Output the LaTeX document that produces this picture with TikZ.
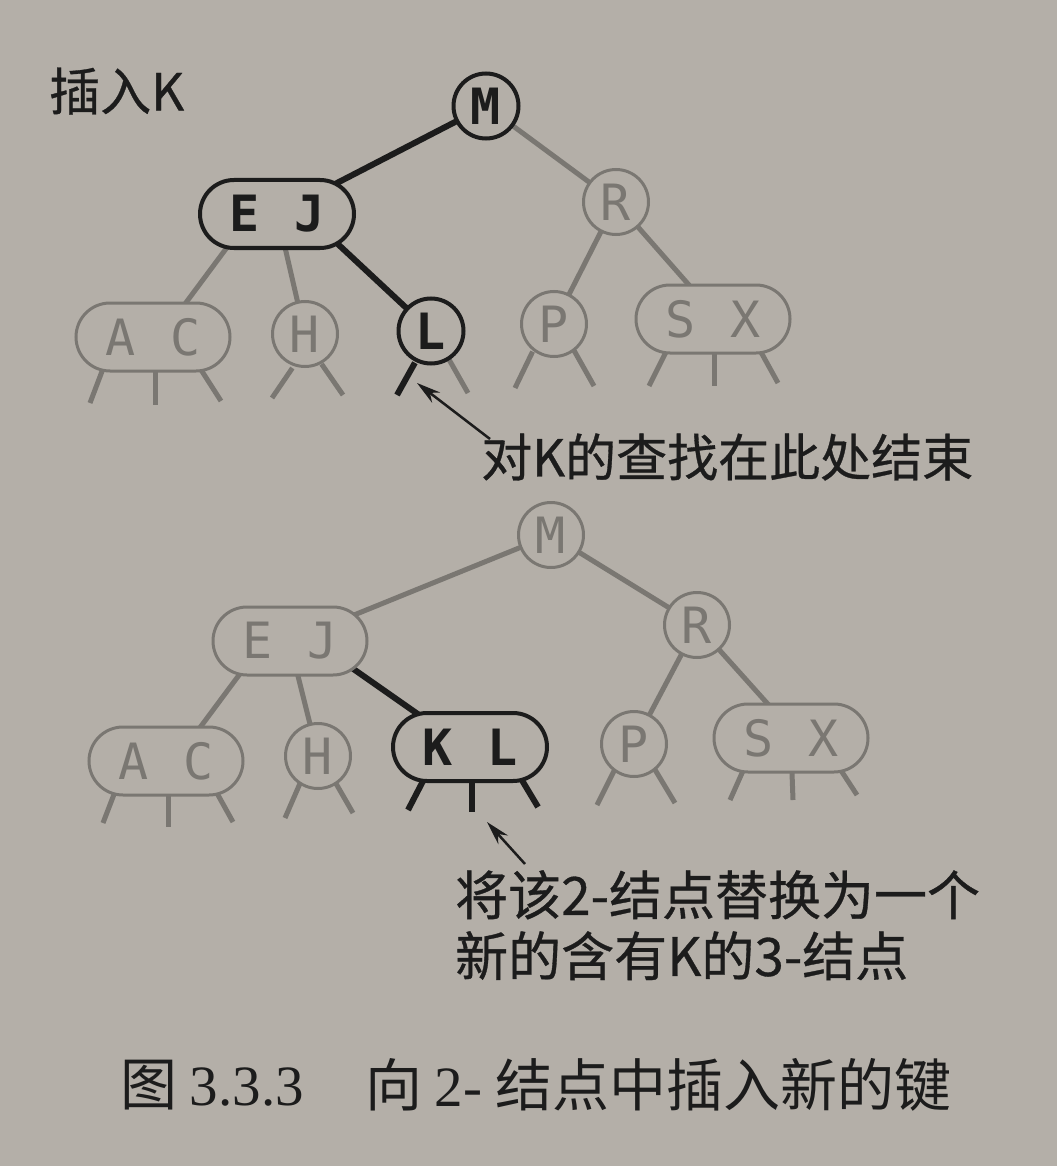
\documentclass[tikz,border=0pt]{standalone}
\usepackage{fontspec}
\setmainfont{Noto Sans CJK SC}
\newfontfamily\cjk[FakeBold=0.6]{Noto Sans CJK SC}
\newfontfamily\capfont{Noto Sans CJK SC}
\newfontfamily\keyfont[WordSpace=1.15]{DejaVu Sans Mono}
\newfontfamily\serifnum{Liberation Serif}
\usetikzlibrary{arrows.meta}
\pgfdeclarelayer{bglayer}
\pgfdeclarelayer{edgelayer}
\pgfsetlayers{bglayer,edgelayer,main}
\definecolor{paper}{RGB}{180,175,168}
\definecolor{ink}{RGB}{28,28,28}
\definecolor{fade}{RGB}{122,119,114}
\begin{document}
\begin{tikzpicture}[x=1pt,y=-1pt,
  knode/.style={inner sep=0pt, fill=paper, font=\keyfont\fontsize{50}{60}\selectfont},
  on/.style={draw=ink, text=ink, line width=4pt, font=\keyfont\bfseries\fontsize{50}{60}\selectfont},
  off/.style={draw=fade, text=fade, line width=3pt},
  two/.style={knode, circle, minimum size=65pt},
  three/.style={knode, rectangle, rounded corners=34pt, minimum width=154pt, minimum height=68pt},
  onlink/.style={draw=ink, line width=6pt},
  offlink/.style={draw=fade, line width=5pt},
  onleaf/.style={onlink, shorten <=-6pt},
  offleaf/.style={offlink, shorten <=-6pt},
  label/.style={inner sep=0pt, text=ink, font=\cjk\fontsize{51}{61}\selectfont},
  pointer/.style={draw=ink, line width=2.5pt, -{Stealth[length=24pt,width=13pt]}}
]
\begin{pgfonlayer}{bglayer}
\fill[paper] (0,0) rectangle (1057,1166);
\end{pgfonlayer}
\path[use as bounding box] (0,0) rectangle (1057,1166);

% ---------- top tree ----------
\node[two,on]    (M1)  at (486,106) {M};
\node[three,on]  (EJ1) at (277,214) {E J};
\node[two,off]   (R1)  at (616,202) {R};
\node[three,off] (AC1) at (153,337) {A C};
\node[two,off]   (H1)  at (305,334) {H};
\node[two,on]    (L1)  at (431,331) {L};
\node[two,off]   (P1)  at (554,324) {P};
\node[three,off] (SX1) at (713,319) {S X};

\begin{pgfonlayer}{edgelayer}
\draw[onlink]  (M1.center) -- (EJ1.center);
\draw[onlink]  ([shift={(49,19)}]EJ1.center) -- (L1.center);
\draw[offlink] ([shift={(-43,24)}]EJ1.center) -- ([shift={(26,-25)}]AC1.center);
\draw[offlink] ([shift={(7,29)}]EJ1.center) -- (H1.center);
\draw[offlink] (M1.center) -- (R1.center);
\draw[offlink] (R1.center) -- (P1.center);
\draw[offlink] (R1.center) -- ([shift={(-17,-26)}]SX1.center);
% leaves
\draw[offleaf] ([shift={(-52,37)}]AC1.center) -- ([shift={(-63,66)}]AC1.center);
\draw[offleaf] ([shift={(2,39)}]AC1.center) -- ([shift={(2,68)}]AC1.center);
\draw[offleaf] ([shift={(52,39)}]AC1.center) -- ([shift={(68,64)}]AC1.center);
\draw[offleaf] ([shift={(-16,39)}]H1.center) -- ([shift={(-33,64)}]H1.center);
\draw[offleaf] ([shift={(20,35)}]H1.center) -- ([shift={(38,61)}]H1.center);
\draw[onleaf]  ([shift={(-19,37)}]L1.center) -- ([shift={(-34,64)}]L1.center);
\draw[offleaf] ([shift={(20,32)}]L1.center) -- ([shift={(37,62)}]L1.center);
\draw[offleaf] ([shift={(-24,33)}]P1.center) -- ([shift={(-39,64)}]P1.center);
\draw[offleaf] ([shift={(22,30)}]P1.center) -- ([shift={(40,62)}]P1.center);
\draw[offleaf] ([shift={(-49,37)}]SX1.center) -- ([shift={(-64,67)}]SX1.center);
\draw[offleaf] ([shift={(1,38)}]SX1.center) -- ([shift={(1,67)}]SX1.center);
\draw[offleaf] ([shift={(49,35)}]SX1.center) -- ([shift={(65,64)}]SX1.center);
\end{pgfonlayer}

% ---------- bottom tree ----------
\node[two,off]   (M2)  at (551,535) {M};
\node[three,off] (EJ2) at (290,641) {E J};
\node[two,off]   (R2)  at (697,625) {R};
\node[three,off] (AC2) at (166,761) {A C};
\node[two,off]   (H2)  at (318,756) {H};
\node[three,on]  (KL2) at (470,747) {K L};
\node[two,off]   (P2)  at (634,744) {P};
\node[three,off] (SX2) at (791,738) {S X};

\begin{pgfonlayer}{edgelayer}
\draw[offlink] (M2.center) -- (EJ2.center);
\draw[offlink] (M2.center) -- (R2.center);
\draw[offlink] ([shift={(-45,26)}]EJ2.center) -- ([shift={(27,-24)}]AC2.center);
\draw[offlink] ([shift={(6,27)}]EJ2.center) -- (H2.center);
\draw[onlink]  ([shift={(52,20)}]EJ2.center) -- ([shift={(-38,-23)}]KL2.center);
\draw[offlink] (R2.center) -- (P2.center);
\draw[offlink] (R2.center) -- ([shift={(-16,-26)}]SX2.center);
% leaves
\draw[offleaf] ([shift={(-53,36)}]AC2.center) -- ([shift={(-63,62)}]AC2.center);
\draw[offleaf] ([shift={(2,36)}]AC2.center) -- ([shift={(2,66)}]AC2.center);
\draw[offleaf] ([shift={(52,34)}]AC2.center) -- ([shift={(67,61)}]AC2.center);
\draw[offleaf] ([shift={(-20,32)}]H2.center) -- ([shift={(-33,62)}]H2.center);
\draw[offleaf] ([shift={(20,31)}]H2.center) -- ([shift={(35,57)}]H2.center);
\draw[onleaf]  ([shift={(-48,36)}]KL2.center) -- ([shift={(-62,63)}]KL2.center);
\draw[onleaf]  ([shift={(2,36)}]KL2.center) -- ([shift={(2,65)}]KL2.center);
\draw[onleaf]  ([shift={(53,35)}]KL2.center) -- ([shift={(68,60)}]KL2.center);
\draw[offleaf] ([shift={(-22,31)}]P2.center) -- ([shift={(-37,61)}]P2.center);
\draw[offleaf] ([shift={(23,29)}]P2.center) -- ([shift={(41,59)}]P2.center);
\draw[offleaf] ([shift={(-49,35)}]SX2.center) -- ([shift={(-61,62)}]SX2.center);
\draw[offleaf] ([shift={(1,35)}]SX2.center) -- ([shift={(2,62)}]SX2.center);
\draw[offleaf] ([shift={(51,34)}]SX2.center) -- ([shift={(66,57)}]SX2.center);
\end{pgfonlayer}

% ---------- labels ----------
\node[label, anchor=west, font=\cjk\fontsize{51}{51}\selectfont] (title) at (49,91) {插入K};
\node[label, anchor=west] (T1) at (481,457) {对K的查找在此处结束};
\node[label, anchor=north west, align=left, font=\cjk\fontsize{53}{61}\selectfont] (T2) at (455,870) {将该2-结点替换为一个\\新的含有K的3-结点};
\coordinate (tipA) at (417,383);
\coordinate (tipB) at (487,822);
\draw[pointer] ([shift={(9,-18)}]T1.west) -- (tipA);
\draw[pointer] ([shift={(70,-6)}]T2.north west) -- (tipB);

\node[label, anchor=west, font=\capfont\fontsize{57}{57}\selectfont] (cap1) at (120,1085) {图 {\serifnum 3.3.3}};
\node[label, anchor=west, font=\capfont\fontsize{57}{57}\selectfont] (cap2) at (365,1085) {向 {\serifnum 2-} 结点中插入新的键};
\end{tikzpicture}
\end{document}
